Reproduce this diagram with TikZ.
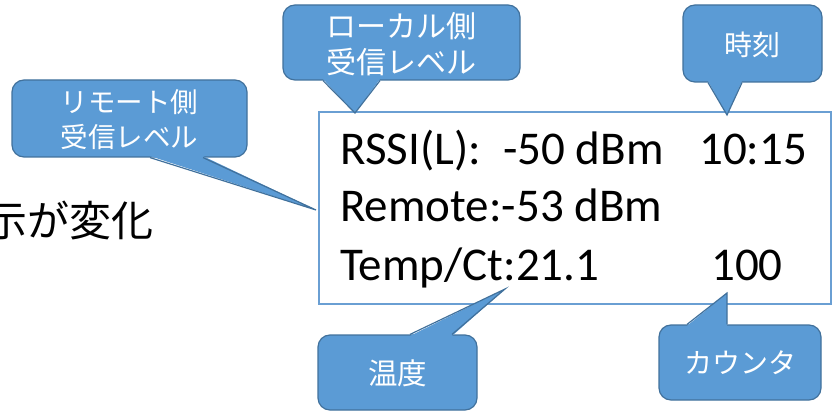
\documentclass[tikz,border=0pt]{standalone}
\usepackage{fontspec}
\setmainfont{Carlito}
\newfontfamily\jpfont{Noto Sans CJK JP}
\definecolor{calloutfill}{HTML}{5B9BD5}
\definecolor{calloutline}{HTML}{41719C}
\definecolor{screenline}{HTML}{6A9FD3}

% pointer of a callout: base on the edge #1, offsets #2 and #3, inset #4, tip #5
\newcommand\calloutpointer[5]{%
  \fill[calloutfill] ([xshift=#2pt,yshift=#4pt]#1) -- (#5) -- ([xshift=#3pt,yshift=#4pt]#1) -- cycle;
  \draw[pointeredge] ([xshift=#2pt]#1) -- (#5) -- ([xshift=#3pt]#1);}

\begin{document}
\begin{tikzpicture}[x=1pt,y=-1pt,
  callout/.style={draw=calloutline, line width=1.2pt, fill=calloutfill,
    rounded corners=12pt, text=white, align=center, inner sep=0pt,
    text depth=-3pt, font=\jpfont\fontsize{28}{36}\selectfont},
  pointeredge/.style={draw=calloutline, line width=1.2pt, line join=miter},
  screen/.style={draw=screenline, line width=1.3pt, inner sep=0pt},
  lcd/.style={anchor=base west, inner sep=0pt, font=\fontsize{47}{56}\selectfont},
  side/.style={anchor=base east, inner sep=0pt, font=\jpfont\fontsize{42}{50}\selectfont}]
\useasboundingbox (0,0) rectangle (837,411);

\begin{scope}
\clip (0,0) rectangle (837,411);
\node[side] (note) at (154,237) {示が変化};
\end{scope}

% display panel
\node[screen, minimum width=512pt, minimum height=192pt] (panel) at (575,208) {};
\node[lcd] (rssi)  at (340,165) {RSSI(L):};
\node[lcd] (rssiv) at (503,165) {-50 dBm};
\node[lcd] (clock) at (699,165) {10:15};
\node[lcd] (remote) at (340,222) {Remote:-53 dBm};
\node[lcd] (temp)  at (340,280) {Temp/Ct:21.1};
\node[lcd] (count) at (711,280) {100};

% pointer tips
\coordinate (remtip)  at (316,210);
\coordinate (loctip)  at (355,113);
\coordinate (timetip) at (727,115);
\coordinate (temptip) at (505,289);
\coordinate (cnttip)  at (727,293);

% callouts
\node[callout, minimum width=235pt, minimum height=77pt,
  font=\jpfont\fontsize{27.5}{35}\selectfont] (rem) at (129.5,118.5) {リモート側\\受信レベル};
\calloutpointer{rem.south}{20.5}{73.5}{1.5}{remtip}

\node[callout, minimum width=237pt, minimum height=75pt,
  font=\jpfont\fontsize{30}{36}\selectfont] (loc) at (401.5,42.5) {ローカル側\\受信レベル};
\calloutpointer{loc.south}{-78.5}{-21.5}{1.5}{loctip}

\node[callout, minimum width=139pt, minimum height=77pt] (time) at (752.5,43.5) {時刻};
\calloutpointer{time.south}{-44.5}{-10.5}{1.5}{timetip}

\node[callout, minimum width=159pt, minimum height=75pt,
  font=\jpfont\fontsize{29.5}{36}\selectfont] (tempc) at (397.5,372.5) {温度};
\calloutpointer{tempc.north}{12.5}{54.5}{-1.5}{temptip}

\node[callout, minimum width=162pt, minimum height=75pt] (cnt) at (740,362.5) {カウンタ};
\calloutpointer{cnt.north}{-53}{-13}{-1.5}{cnttip}
\end{tikzpicture}
\end{document}
